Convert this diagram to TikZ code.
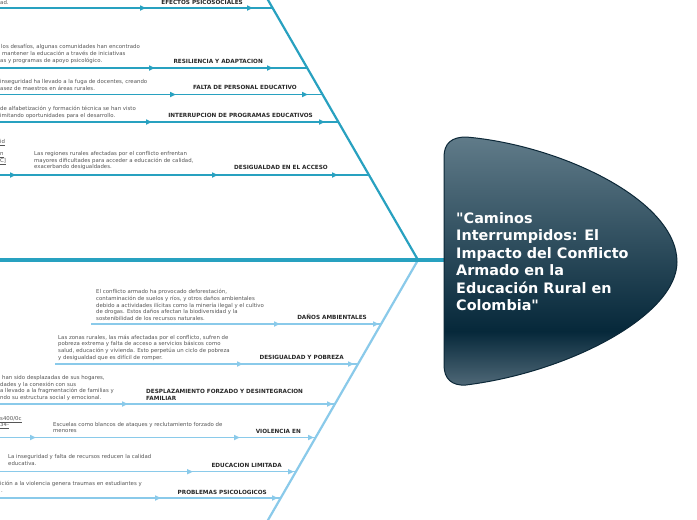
\documentclass[tikz,border=0pt]{standalone}
\usepackage{fontspec}
\setmainfont{DejaVu Sans}
\newfontfamily\titlefont{DejaVu Sans}[Ligatures=TeXOff]
\usetikzlibrary{arrows.meta,decorations.markings}
\definecolor{upc}{RGB}{40,161,192}
\definecolor{loc}{RGB}{138,202,234}
\definecolor{txtg}{RGB}{85,85,85}
\definecolor{lblc}{RGB}{40,40,40}
\definecolor{htop}{RGB}{96,123,137}
\definecolor{hdark}{RGB}{6,40,58}
\definecolor{hbot}{RGB}{80,105,120}
\definecolor{hborder}{RGB}{12,40,56}
\pgfdeclareverticalshading{headshade}{100bp}{color(0bp)=(hbot); color(25bp)=(hbot); color(36bp)=(hdark); color(75bp)=(htop); color(100bp)=(htop)}
\begin{document}
\begin{tikzpicture}[x=1pt,y=-1pt,
  ubr/.style={draw=upc, line width=1.5pt},
  lbr/.style={draw=loc, line width=1.5pt},
  mk/.style={postaction={decorate,decoration={markings,mark=at position #1 with {\arrow{Triangle[length=6pt,width=5pt]}}}}},
  lbl/.style={font=\fontsize{5.7}{6.7}\selectfont\bfseries, text=lblc, inner sep=0},
  desc/.style={font=\fontsize{5.4}{6.7}\selectfont, text=txtg, align=left, inner sep=0, anchor=north west, execute at begin node={\rule{0pt}{4.6pt}}},
  frag/.style={font=\fontsize{5.4}{6.7}\selectfont, text=txtg, inner sep=0, anchor=base west}]
\useasboundingbox (0,0) rectangle (697,520);
\fill[white] (0,0) rectangle (697,520);

% bones
\coordinate (ubT) at (263.4,-8);
\coordinate (jn) at (418,260);
\coordinate (lbB) at (263.4,528);
\draw[upc, line width=2.2pt] (ubT) -- (jn);
\draw[loc, line width=2.2pt] (jn) -- (lbB);

% upper branches
\coordinate (s1) at (0,8);     \coordinate (b1) at (272.6,8);
\coordinate (s2) at (0,68);    \coordinate (b2) at (307.2,68);
\coordinate (s3) at (0,94.5);  \coordinate (b3) at (322.5,94.5);
\coordinate (s4) at (0,122);   \coordinate (b4) at (338.4,122);
\coordinate (s5) at (0,175);   \coordinate (b5) at (369,175);
\draw[ubr, mk=146pt, mk=253pt] (s1) -- (b1);
\draw[ubr, mk=155pt, mk=273pt] (s2) -- (b2);
\draw[ubr, mk=176pt, mk=308pt] (s3) -- (b3);
\draw[ubr, mk=152pt, mk=325pt] (s4) -- (b4);
\draw[ubr, mk=16pt, mk=218pt, mk=338pt] (s5) -- (b5);

% lower branches
\coordinate (s6) at (91,324);   \coordinate (b6) at (381.1,324);
\coordinate (s7) at (55,364);   \coordinate (b7) at (358,364);
\coordinate (s8) at (0,404);    \coordinate (b8) at (334.9,404);
\coordinate (s9) at (0,437.5);  \coordinate (b9) at (315.6,437.5);
\coordinate (s10) at (0,471.7); \coordinate (b10) at (295.9,471.7);
\coordinate (s11) at (0,498);   \coordinate (b11) at (280.7,498);
\draw[lbr, mk=189pt, mk=288pt] (s6) -- (b6);
\draw[lbr, mk=188pt, mk=299pt] (s7) -- (b7);
\draw[lbr, mk=128pt, mk=333pt] (s8) -- (b8);
\draw[lbr, mk=36pt, mk=240pt, mk=314pt] (s9) -- (b9);
\draw[lbr, mk=193pt, mk=294pt] (s10) -- (b10);
\draw[lbr, mk=161pt, mk=278pt] (s11) -- (b11);

% spine
\coordinate (spS) at (0,260);
\coordinate (headW) at (444,260);
\draw[upc, line width=4pt] (spS) -- (headW);

% head
\shade[shading=headshade, draw=hborder, line width=1pt]
  (444,157) .. controls (444,143) and (452,137) .. (466,137)
  .. controls (560,145) and (677,200) .. (677,262)
  .. controls (677,315) and (570,372) .. (466,385)
  .. controls (452,386) and (444,379) .. (444,365) -- cycle;
\node[anchor=north west, align=left, text=white, font=\fontsize{14.4}{17.4}\titlefont\bfseries, inner sep=0] (title) at (456,212.3)
  {\rule{0pt}{10.7pt}"Caminos\\Interrumpidos: El\\Impacto del Conflicto\\Armado en la\\Educación Rural en\\Colombia"};

% labels
\node[lbl, anchor=base east] (l1) at (243,4.1) {EFECTOS PSICOSOCIALES};
\node[lbl, anchor=base east] (l2) at (263,63) {RESILIENCIA Y ADAPTACION};
\node[lbl, anchor=base east] (l3) at (297,89.8) {FALTA DE PERSONAL EDUCATIVO};
\node[lbl, anchor=base east] (l4) at (313,117) {INTERRUPCION DE PROGRAMAS EDUCATIVOS};
\node[lbl, anchor=base east] (l5) at (328,169.8) {DESIGUALDAD EN EL ACCESO};
\node[lbl, anchor=base east] (l6) at (367,319.8) {DAÑOS AMBIENTALES};
\node[lbl, anchor=base east] (l7) at (344,359.8) {DESIGUALDAD Y POBREZA};
\node[lbl, anchor=north west, align=left] (l8) at (146,389) {\rule{0pt}{4.2pt}DESPLAZAMIENTO FORZADO Y DESINTEGRACION\\FAMILIAR};
\node[lbl, anchor=base east] (l9) at (301,433) {VIOLENCIA EN};
\node[lbl, anchor=base east] (l10) at (282,467) {EDUCACION LIMITADA};
\node[lbl, anchor=base east] (l11) at (267,494) {PROBLEMAS PSICOLOGICOS};

% descriptions
\node[desc] (d1) at (0,-0.8) {ad.};
\node[desc] (d2) at (0,44.2) {\hspace*{1pt}los desafíos, algunas comunidades han encontrado\\\hspace*{2pt}mantener la educación a través de iniciativas\\as y programas de apoyo psicológico.};
\node[desc] (d3) at (0,79.2) {inseguridad ha llevado a la fuga de docentes, creando\\asez de maestros en áreas rurales.};
\node[desc] (d4) at (0,105.9) {de alfabetización y formación técnica se han visto\\imitando oportunidades para el desarrollo.};
\node[desc] (d5) at (34,151.2) {Las regiones rurales afectadas por el conflicto enfrentan\\mayores dificultades para acceder a educación de calidad,\\exacerbando desigualdades.};
\node[desc] (d6) at (96,289.2) {El conflicto armado ha provocado deforestación,\\contaminación de suelos y ríos, y otros daños ambientales\\debido a actividades ilícitas como la minería ilegal y el cultivo\\de drogas. Estos daños afectan la biodiversidad y la\\sostenibilidad de los recursos naturales.};
\node[desc] (d7) at (58,334.6) {Las zonas rurales, las más afectadas por el conflicto, sufren de\\pobreza extrema y falta de acceso a servicios básicos como\\salud, educación y vivienda. Esto perpetúa un ciclo de pobreza\\y desigualdad que es difícil de romper.};
\node[desc] (d8) at (0,375.2) {\hspace*{2pt}han sido desplazadas de sus hogares,\\dades y la conexión con sus\\a llevado a la fragmentación de familias y\\ndo su estructura social y emocional.};
\node[desc] (d9) at (53,421.9) {Escuelas como blancos de ataques y reclutamiento forzado de\\menores};
\node[desc] (d10) at (8,454.6) {La inseguridad y falta de recursos reducen la calidad\\educativa.};
\node[desc] (d11) at (0,481.2) {ición a la violencia genera traumas en estudiantes y\\\hspace*{1pt}.};

% link fragments
\node[frag] (f1) at (0,143.5) {\underline{id}};
\node[frag] (f2) at (0,155.5) {\underline{n}};
\node[frag] (f3) at (0,162.5) {\underline{C]}};
\node[frag] (f4) at (0,420.5) {\underline{s400/0c}};
\node[frag] (f5) at (0,426.8) {\underline{34-}};
\end{tikzpicture}
\end{document}
